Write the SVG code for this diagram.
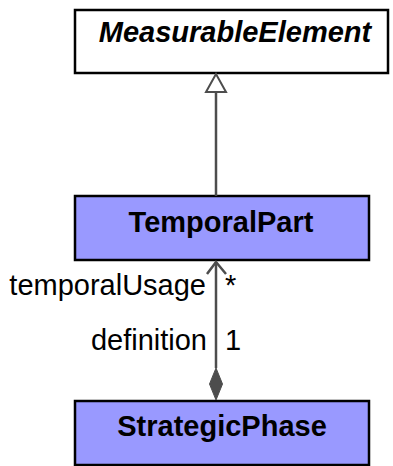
<svg xmlns="http://www.w3.org/2000/svg" width="393" height="466" viewBox="0 0 393 466">
<style>
.box{stroke:#000;stroke-width:2.5}
.cls{fill:#9999ff}
.abs{fill:#fff}
.name{font-family:"Liberation Sans",Arial,sans-serif;font-weight:bold;font-size:29px;text-anchor:middle;fill:#000}
.lbl{font-family:"Liberation Sans",Arial,sans-serif;font-size:29px;fill:#000}
.edge{stroke:#4d4d4d;stroke-width:2.5;fill:none}
</style>
<rect width="393" height="466" fill="#fff"/>
<g id="MeasurableElement">
<rect class="box abs" x="75" y="10" width="313" height="63"/>
<text class="name" x="235" y="42" font-style="italic">MeasurableElement</text>
</g>
<g id="TemporalPart">
<rect class="box cls" x="75" y="196" width="294" height="64"/>
<text class="name" x="221" y="232">TemporalPart</text>
</g>
<g id="StrategicPhase">
<rect class="box cls" x="75" y="401" width="294" height="64"/>
<text class="name" x="222" y="436">StrategicPhase</text>
</g>
<g id="connectors">
<line class="edge" x1="216" y1="92" x2="216" y2="196"/>
<polygon points="216,74 206,92 226,92" fill="#fff" stroke="#4d4d4d" stroke-width="2"/>
<line class="edge" x1="216" y1="262" x2="216" y2="368"/>
<polyline class="edge" points="207,274 216,262 226,274"/>
<polygon points="216,368 222.5,384 216,400 209.5,384" fill="#4d4d4d" stroke="#4d4d4d" stroke-width="1"/>
<text class="lbl" x="206" y="295" text-anchor="end">temporalUsage</text>
<text class="lbl" x="225" y="295">*</text>
<text class="lbl" x="207" y="350" text-anchor="end">definition</text>
<text class="lbl" x="225" y="350">1</text>
</g>
</svg>
